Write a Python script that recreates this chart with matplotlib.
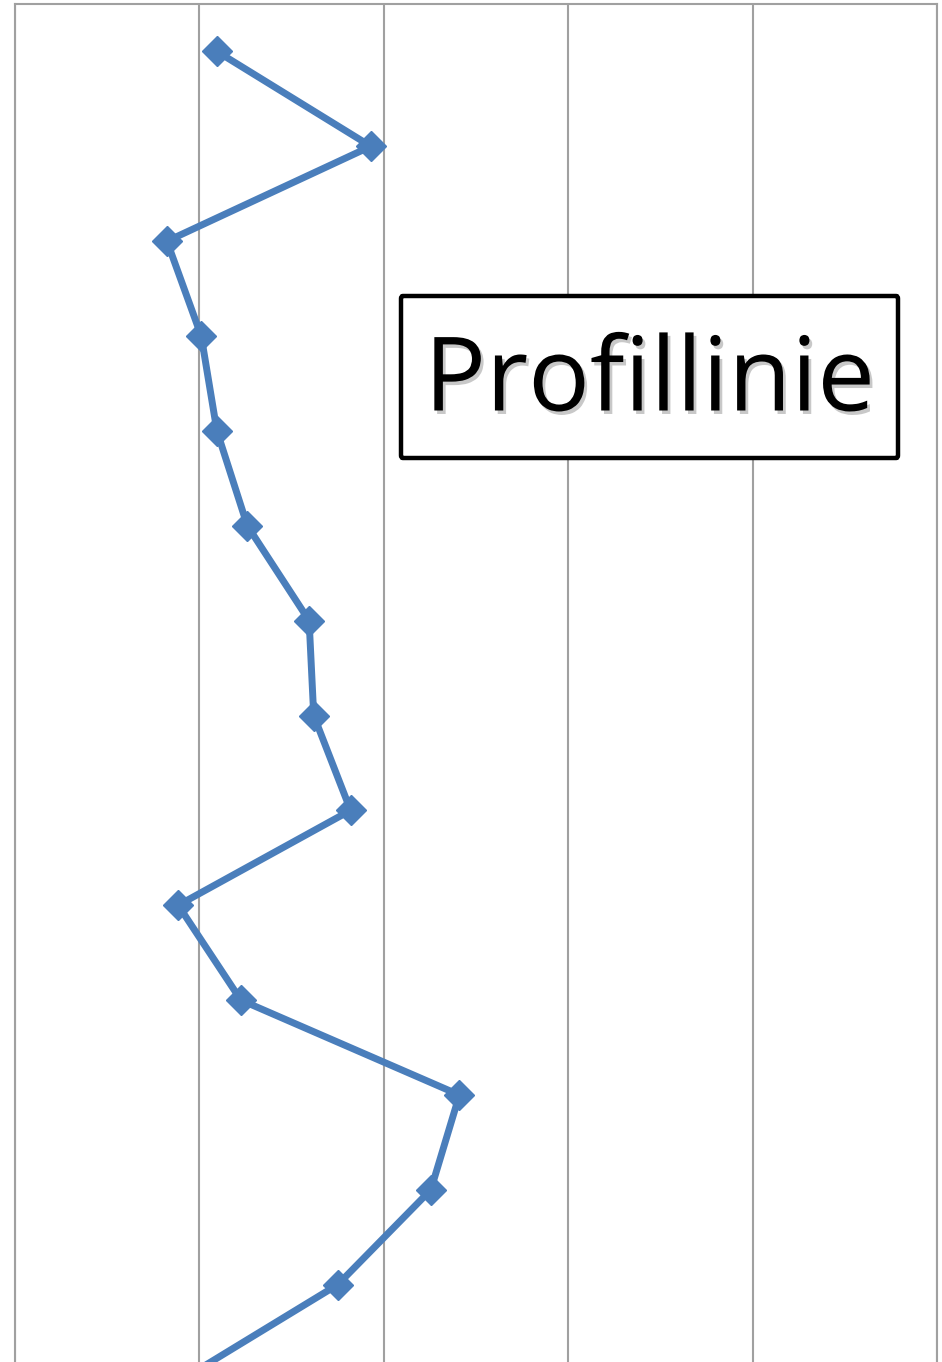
import matplotlib
matplotlib.use("Agg")
import matplotlib.pyplot as plt
import matplotlib.patheffects as pe
from matplotlib.patches import FancyBboxPatch

# Data
depth = [0.5, 1.5, 2.5, 3.5, 4.5, 5.5, 6.5, 7.5, 8.5, 9.5, 10.5, 11.5, 12.5, 13.5, 14.5]
values = [1.095, 1.93, 0.824, 1.01, 1.095, 1.26, 1.595, 1.62, 1.82, 0.885, 1.225, 2.41, 2.255, 1.75, 0.905]
x_ticks = [0, 1, 2, 3, 4, 5]
label = "Profillinie"

W, H = 942, 1362
fig = plt.figure(figsize=(W / 100, H / 100), dpi=100)
left, right, top, bottom_px = 15, 937, 4, 1427
ax = fig.add_axes([left / W, 1 - bottom_px / H, (right - left) / W, (bottom_px - top) / H])

ax.plot(values, depth, color="#4a7ebb", lw=5.0, marker="D", markersize=15,
        markeredgewidth=1, markeredgecolor="#4a7ebb", markerfacecolor="#4a7ebb",
        clip_on=True, zorder=3)

ax.set_xlim(0, 5)
ax.set_ylim(15, 0)
ax.set_xticks(x_ticks)
ax.set_yticks([])
ax.grid(axis="x", color="#a0a0a0", lw=1.5)
ax.tick_params(length=0, labelbottom=False, labelleft=False)
for s in ax.spines.values():
    s.set_color("#a0a0a0")
    s.set_linewidth(1.5)

# label box
bx0, bx1, by0, by1 = 401, 898, 296, 458
box = FancyBboxPatch((bx0 / W, 1 - by1 / H), (bx1 - bx0) / W, (by1 - by0) / H,
                     boxstyle="round,pad=0,rounding_size=0.002", transform=fig.transFigure,
                     facecolor="white", edgecolor="black", linewidth=3.2, zorder=4)
fig.patches.append(box)

t = fig.text((bx0 + bx1) / 2 / W, 1 - 384 / H, label, ha="center", va="center",
             fontsize=74, family="Open Sans", color="black", zorder=5)
t.set_path_effects([pe.SimplePatchShadow(offset=(2, -2.5), shadow_rgbFace="#777777", alpha=0.4), pe.Normal()])

fig.savefig("out.png", dpi=100)
